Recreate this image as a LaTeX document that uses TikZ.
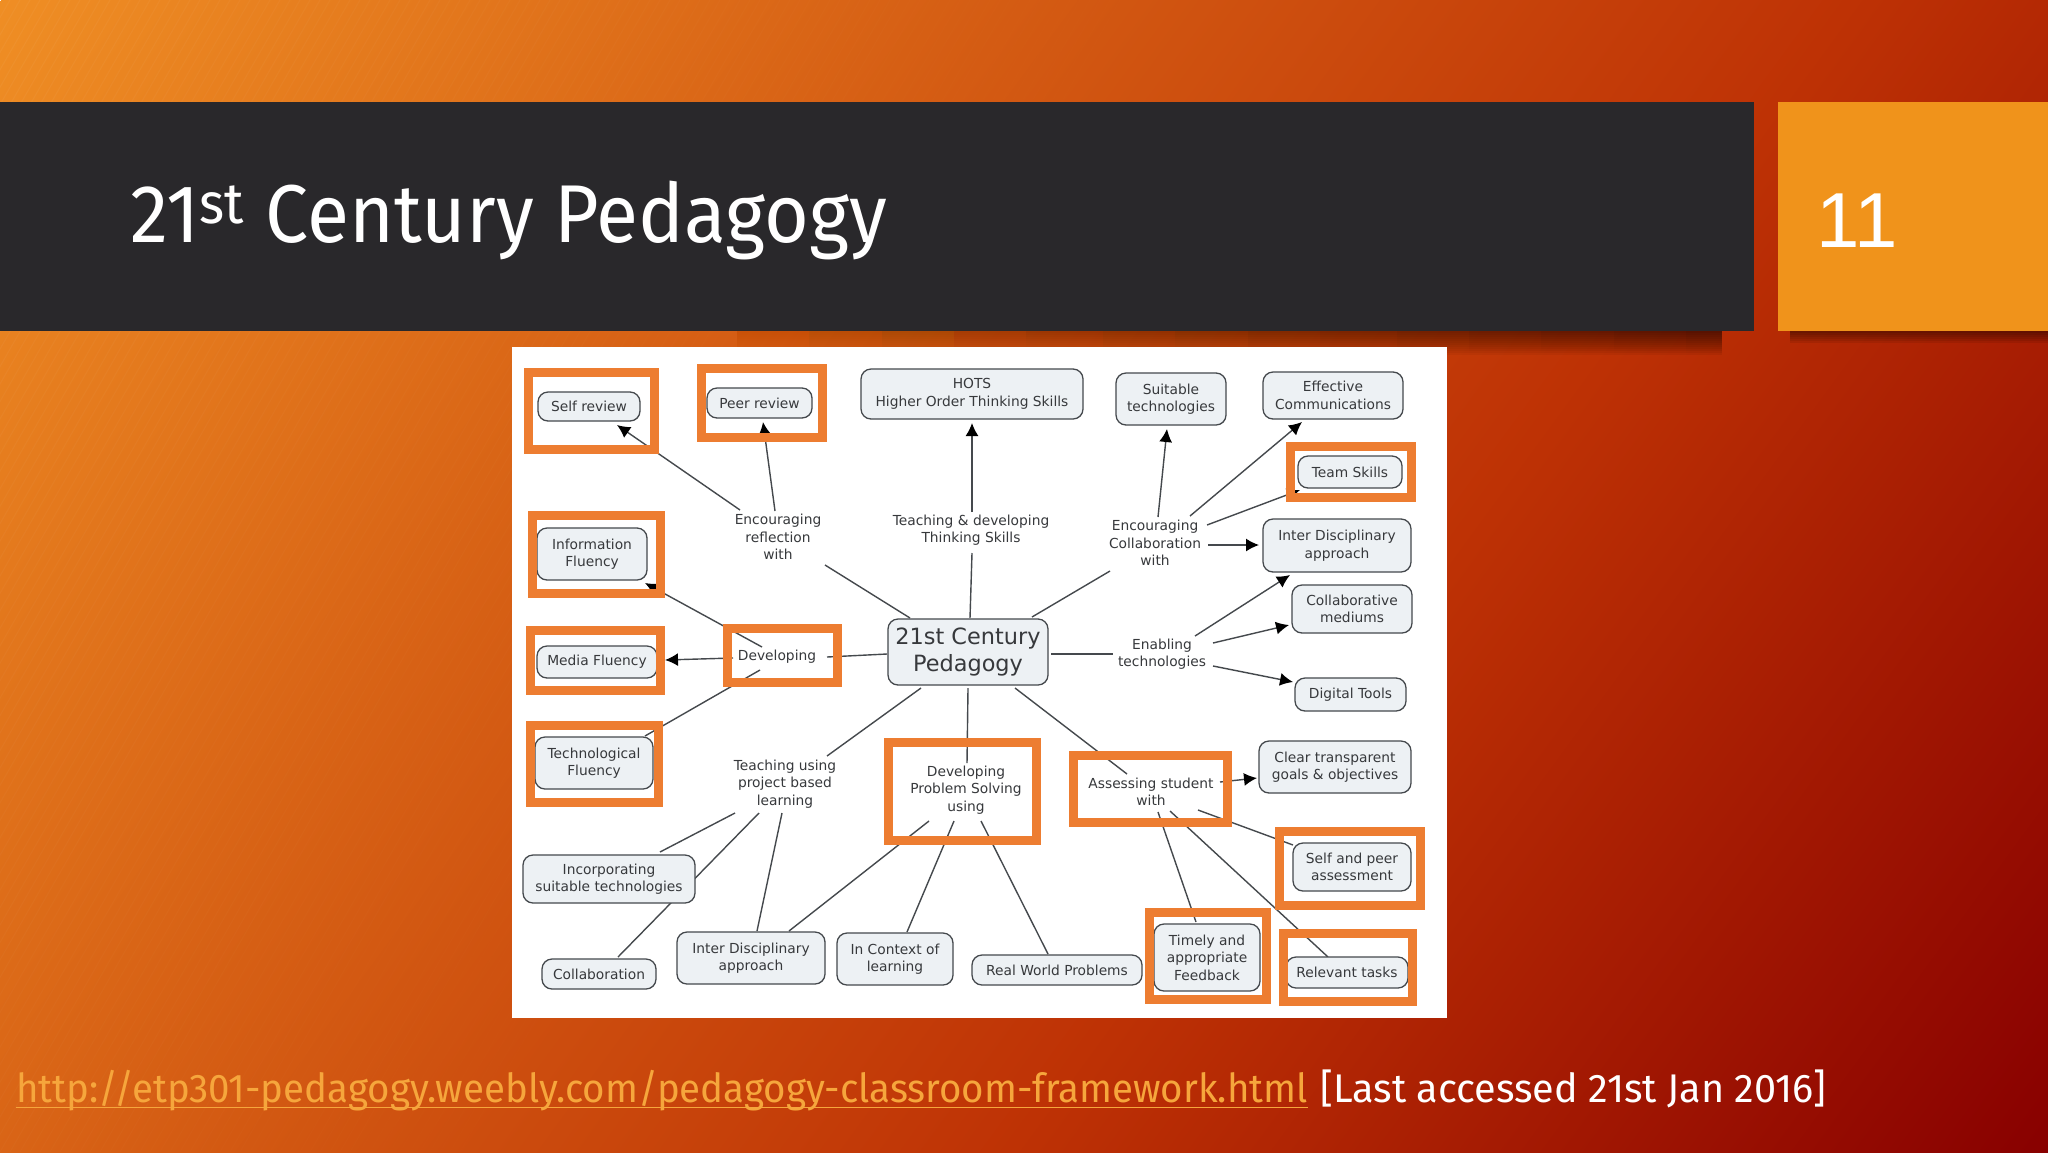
\documentclass[tikz,border=0pt]{standalone}
\usepackage{fontspec}
\usetikzlibrary{arrows.meta,calc,fadings}
\setmainfont{Fira Sans}
\newfontfamily\diag{DejaVu Sans}
\newfontfamily\titlef[FakeStretch=0.937]{Fira Sans}
\newfontfamily\linkf[FakeStretch=0.961]{Fira Sans}
\newfontfamily\restf[FakeStretch=0.99]{Fira Sans}
\newfontfamily\pagef{Liberation Sans}
\definecolor{frameor}{HTML}{ED7D31}
\definecolor{boxfill}{HTML}{EDF1F4}
\definecolor{boxline}{HTML}{45494D}
\definecolor{inkc}{HTML}{37393C}
\definecolor{barc}{HTML}{29282B}
\definecolor{pagec}{HTML}{F0931B}
\definecolor{linkc}{HTML}{F6A63C}
\definecolor{bga}{HTML}{EF8E24}
\definecolor{bgb}{HTML}{BE3205}
\definecolor{bgc}{HTML}{880000}
\pgfdeclarehorizontalshading{slidebg}{100bp}{color(0bp)=(bga);color(64bp)=(bgb);color(100bp)=(bgc)}
\pgfdeclarelayer{lines}
\pgfsetlayers{lines,main}
\tikzfading[name=shfade,left color=transparent!100,right color=transparent!0]
\tikzset{
  x=0.5pt,y=-0.5pt,
  cbox/.style={draw=boxline,fill=boxfill,rounded corners=5pt,line width=0.65pt,inner sep=0pt,align=center,text=inkc,font=\diag\fontsize{6.9}{8.7}\selectfont},
  lab/.style={inner sep=0pt,align=center,text=inkc,font=\diag\fontsize{6.9}{8.7}\selectfont},
  conn/.style={draw=boxline,line width=0.7pt},
  arr/.style={conn,-{Latex[length=6.5pt,width=6.5pt,black]}},
  hl/.style={draw=frameor,line width=4.5pt,fill=none,inner sep=0pt},
}
\newcommand{\BX}[7][]{\node[cbox,#1,minimum width=#6*0.5pt-#4*0.5pt,minimum height=#7*0.5pt-#5*0.5pt] (#2) at ({(#4+#6)/2},{(#5+#7)/2}) {#3};}
\newcommand{\HL}[5]{\draw[hl] (#2+4.5,#3+4.5) rectangle (#4-4.5,#5-4.5);}
\newcommand{\CN}[7][conn]{\draw[#1] ([shift={(#3,#4)}]#2.center) -- ([shift={(#6,#7)}]#5.center);}
\newsavebox{\linkbox}
\newcommand{\linkul}[1]{\sbox{\linkbox}{#1}\rlap{\rule[-3.2pt]{\wd\linkbox}{0.9pt}}\usebox{\linkbox}}
\begin{document}
\begin{tikzpicture}
\useasboundingbox (0,0) rectangle (2048,1152);
\begin{pgfonlayer}{lines}
\begin{scope}
\clip (0,0) rectangle (2048,1152);
\begin{pgfscope}
\pgflowlevel{\pgftransformrotate{-36.2}}
\pgflowlevel{\pgftransformshift{\pgfqpoint{583.7pt}{70pt}}}
\pgflowlevel{\pgftransformxscale{11.63}}
\pgflowlevel{\pgftransformyscale{11}}
\pgfuseshading{slidebg}
\end{pgfscope}
% faint diagonal texture of the slide background
\foreach \i in {0,...,130}{
  \pgfmathsetmacro{\op}{0.045*(1-\i/130)}
  \draw[white,opacity=\op,line width=0.5pt] ({-660+\i*10},1152) -- ({\i*10},0);
}
\end{scope}
% soft shadows
\foreach \h in {2,4,...,24}{
  \fill[black,path fading=shfade,opacity=0.055] (700,331) rectangle (1722,331+\h);
}
\foreach \h in {2,4,...,12}{
  \fill[black,opacity=0.08] (1790,331) rectangle (2048,331+\h);
}
\fill[barc] (0,102) rectangle (1754,331);
\fill[pagec] (1778,102) rectangle (2048,331);
\fill[white] (512,347) rectangle (1447,1018);
\end{pgfonlayer}
\node[anchor=base west,inner sep=0pt,text=white,font=\titlef\fontsize{41}{43}\selectfont] (title) at (130,242) {21\textsuperscript{st} Century Pedagogy};
\node[anchor=base west,inner sep=0pt,text=white,font=\pagef\fontsize{39}{41}\selectfont] (pg) at (1816,247) {11};
% labels
\node[lab] (enref) at (778,537) {Encouraging\\reflection\\with};
\node[lab] (teachdev) at (971,530) {Teaching \& developing\\Thinking Skills};
\node[lab] (encol) at (1155,543) {Encouraging\\Collaboration\\with};
\node[lab] (enabl) at (1162,654) {Enabling\\technologies};
\node[lab] (devel) at (777,657) {Developing};
\node[lab] (tpbl) at (785,784) {Teaching using\\project based\\learning};
\node[lab] (probl) at (966,790) {Developing\\Problem Solving\\using};
\node[lab] (assess) at (1151,792) {Assessing student\\with};
% boxes
\BX{selfr}{Self review}{538}{392}{640}{421}
\BX{peerr}{Peer review}{707}{388}{812}{418}
\BX{hots}{HOTS\\Higher Order Thinking Skills}{861}{369}{1083}{419}
\BX{suit}{Suitable\\technologies}{1116}{373}{1226}{425}
\BX{effc}{Effective\\Communications}{1263}{372}{1403}{419}
\BX{team}{Team Skills}{1298}{456}{1402}{488}
\BX{idr}{Inter Disciplinary\\approach}{1263}{519}{1411}{572}
\BX{colm}{Collaborative\\mediums}{1292}{585}{1412}{633}
\BX{digi}{Digital Tools}{1295}{678}{1406}{711}
\BX{info}{Information\\Fluency}{537}{528}{647}{580}
\BX{media}{Media Fluency}{537}{646}{657}{678}
\BX{tech}{Technological\\Fluency}{535}{737}{653}{789}
\BX[font=\diag\fontsize{11.2}{13.2}\selectfont]{ctr}{21st Century\\Pedagogy}{888}{619}{1048}{685}
\BX{incs}{Incorporating\\suitable technologies}{523}{855}{695}{903}
\BX{coll}{Collaboration}{542}{959}{656}{989}
\BX{idb}{Inter Disciplinary\\approach}{677}{932}{825}{984}
\BX{ictx}{In Context of\\learning}{837}{933}{953}{985}
\BX{realw}{Real World Problems}{972}{955}{1142}{985}
\BX{clear}{Clear transparent\\goals \& objectives}{1259}{741}{1411}{793}
\BX{selfp}{Self and peer\\assessment}{1293}{843}{1411}{891}
\BX{timely}{Timely and\\appropriate\\Feedback}{1154}{924}{1260}{991}
\BX{relev}{Relevant tasks}{1286}{957}{1408}{988}
% connectors (ends are offset from the centres of named nodes), under the boxes
\begin{pgfonlayer}{lines}
\CN{ctr}{-58}{-34}{enref}{47}{28}
\CN[arr]{enref}{-38}{-27}{selfr}{28}{18.5}
\CN[arr]{enref}{-3}{-26}{peerr}{3.5}{19}
\CN{ctr}{2}{-34}{teachdev}{1}{23}
\CN[arr]{teachdev}{1}{-18}{hots}{0}{29}
\CN{ctr}{64}{-35}{encol}{-45}{28}
\CN[arr]{encol}{3}{-26}{suit}{-4}{30}
\CN[arr]{encol}{35}{-27}{effc}{-31}{26.5}
\CN[arr]{encol}{52}{-18}{team}{-50}{18}
\CN[arr]{encol}{53}{2}{idr}{-78}{-0.5}
\CN{ctr}{83}{2}{enabl}{-49}{0}
\CN[arr]{enabl}{33}{-18}{idr}{-47}{29.5}
\CN[arr]{enabl}{51}{-11}{colm}{-63}{16}
\CN[arr]{enabl}{51}{12}{digi}{-57.5}{-12.5}
\CN{ctr}{-81}{2}{devel}{50}{0}
\CN[arr]{devel}{-15}{-10}{info}{53}{29}
\CN[arr]{devel}{-44}{1}{media}{68}{-2}
\CN{devel}{-17}{13}{tech}{51}{-27}
\CN{ctr}{-47}{36}{tpbl}{42}{-28}
\CN{ctr}{0}{36}{probl}{1}{-27}
\CN{ctr}{47}{36}{assess}{-24}{-18}
\CN{tpbl}{-50}{29}{incs}{51}{-27}
\CN{tpbl}{-26}{29}{coll}{19}{-17}
\CN{tpbl}{-3}{29}{idb}{6}{-27}
\CN{probl}{-37}{31}{idb}{38}{-27}
\CN{probl}{-12}{31}{ictx}{12}{-27}
\CN{probl}{15}{31}{realw}{-9}{-16}
\CN[arr]{assess}{69}{-10}{clear}{-78}{11}
\CN{assess}{47}{18}{selfp}{-59}{-22}
\CN{assess}{7}{20}{timely}{-11}{-35.5}
\CN{assess}{19}{19}{relev}{-19}{-15.5}
\end{pgfonlayer}
% orange frames on top of the connectors
\HL{f1}{524}{368}{659}{454}
\HL{f2}{697}{364}{827}{442}
\HL{f3}{1286}{442}{1416}{502}
\HL{f4}{528}{511}{665}{598}
\HL{f5}{526}{626}{665}{695}
\HL{f6}{723}{624}{842}{687}
\HL{f7}{526}{721}{663}{807}
\HL{f8}{884}{738}{1041}{845}
\HL{f9}{1069}{751}{1232}{827}
\HL{f10}{1275}{827}{1425}{910}
\HL{f11}{1145}{908}{1271}{1004}
\HL{f12}{1279}{929}{1417}{1006}
% footer
\node[anchor=base west,inner sep=0pt,text=white,font=\fontsize{20}{22}\selectfont] (foot) at (16,1102) {\textcolor{linkc}{\linkul{\linkf http://etp301-pedagogy.weebly.com/pedagogy-classroom-framework.html}}\hspace{1pt} {\restf [Last accessed 21st Jan 2016]}};
\end{tikzpicture}
\end{document}
